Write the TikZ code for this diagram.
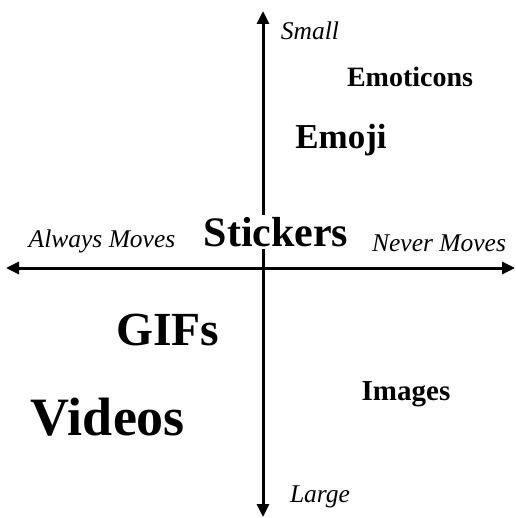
\documentclass[tikz,border=0pt]{standalone}
\usepackage{fontspec}
\setmainfont{Liberation Serif}
\usetikzlibrary{arrows.meta}
\begin{document}
\begin{tikzpicture}[x=1pt,y=-1pt,
  axis/.style={line width=3pt,-{Triangle[length=13pt,width=12pt]}},
  pole/.style={font=\itshape\fontsize{25.5}{30}\selectfont,inner sep=0pt},
  item/.style={font=\bfseries\fontsize{#1}{#1}\selectfont,inner sep=0pt}]
\useasboundingbox[fill=white] (0,0) rectangle (515,518);
% axes
\coordinate (o) at (263,268);
\coordinate (top) at (263,11);
\coordinate (bottom) at (263,517);
\coordinate (left) at (6,268);
\coordinate (right) at (515,268);
\draw[axis] (o) -- (top);
\draw[axis] (o) -- (bottom);
\draw[axis] (o) -- (left);
\draw[axis] (o) -- (right);
% axis labels
\node[pole] (small) at (310,31) {Small};
\node[pole] (large) at (320,497) {Large};
\node[pole] (always) at (102,241) {Always Moves};
\node[pole] (never) at (439,243) {Never Moves};
% items
\node[item=28] (emoticons) at (410,77) {Emoticons};
\node[item=35] (emoji) at (341,140) {Emoji};
\node[item=42,fill=white,inner ysep=2pt] (stickers) at (276,232) {Stickers};
\node[item=47.5] (gifs) at (168,330) {GIFs};
\node[item=54] (videos) at (108,417) {Videos};
\node[item=29] (images) at (406,394) {Images};
\end{tikzpicture}
\end{document}
